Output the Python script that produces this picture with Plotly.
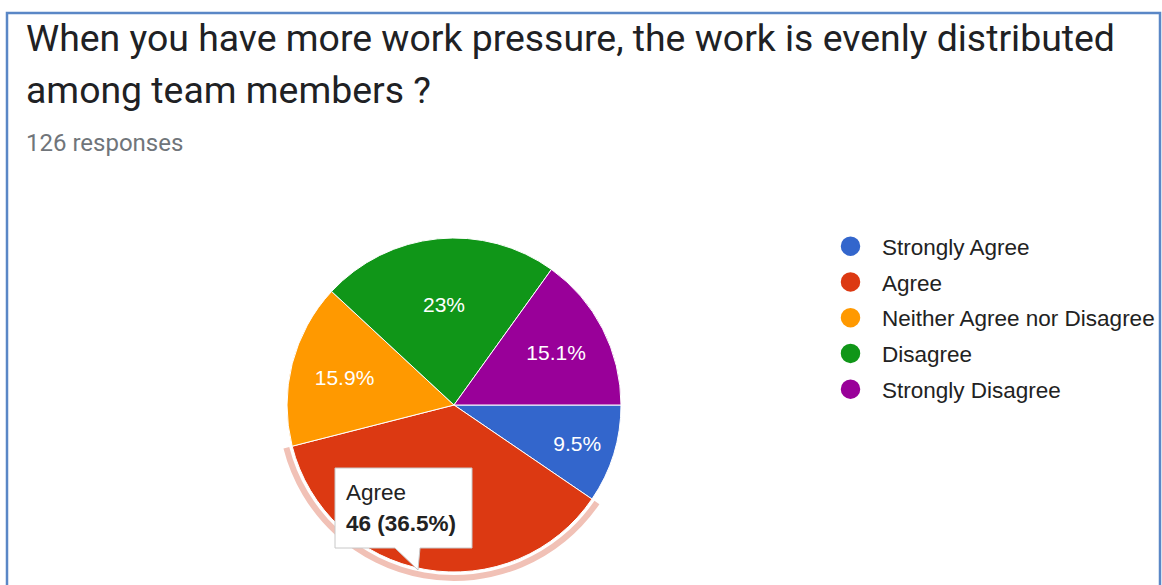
import plotly.graph_objects as go

W, H = 1162, 585

# Survey answers
categories = ["Strongly Agree", "Agree", "Neither Agree nor Disagree", "Disagree", "Strongly Disagree"]
counts = [12, 46, 20, 29, 19]
colors = ["#3366cc", "#dc3912", "#ff9900", "#109618", "#990099"]
highlighted = "Agree"

title_lines = ["When you have more work pressure, the work is evenly distributed",
               "among team members ?"]

total = sum(counts)


def pct(v):
    return f"{round(v / total * 100, 1):g}%"


def px(x):
    return x / W


def py(y):
    return 1 - y / H


hi = categories.index(highlighted)

# slice labels; the highlighted slice is described by the callout instead
slice_text = ["" if i == hi else pct(v) for i, v in enumerate(counts)]

cx, cy, r = 454, 405, 167
halo_in, halo_out = 170, 176

fig = go.Figure()

# pale ring around the highlighted slice
fig.add_trace(go.Pie(
    labels=categories, values=counts, sort=False, direction="clockwise", rotation=90,
    marker=dict(colors=["rgba(0,0,0,0)" if i != hi else "#f1c1b6" for i in range(len(counts))],
                line=dict(width=0)),
    hole=halo_in / halo_out, textinfo="none", hoverinfo="skip", showlegend=False,
    domain=dict(x=[px(cx - halo_out), px(cx + halo_out)], y=[py(cy + halo_out), py(cy - halo_out)]),
))

# main pie
fig.add_trace(go.Pie(
    labels=categories, values=counts, sort=False, direction="clockwise", rotation=90,
    marker=dict(colors=colors, line=dict(color="white", width=1)),
    text=slice_text, textinfo="text", textposition="inside", insidetextorientation="horizontal",
    insidetextfont=dict(family="Liberation Sans, Arial, sans-serif", size=21, color="white"),
    showlegend=False,
    domain=dict(x=[px(cx - r), px(cx + r)], y=[py(cy + r), py(cy - r)]),
))

# legend entries with round markers
for name, col in zip(categories, colors):
    fig.add_trace(go.Scatter(
        x=[None], y=[None], mode="markers", name=name, legendgroup=name,
        marker=dict(symbol="circle", size=20, color=col, line=dict(color=col, width=3.5)),
    ))

# callout for the highlighted slice
bx0, by0, bx1, by1 = 335, 468, 472, 548
tail = [(395, by1), (418, 570), (420, by1)]
path = (f"M {px(bx0)},{py(by0)} L {px(bx1)},{py(by0)} L {px(bx1)},{py(by1)} "
        f"L {px(tail[2][0])},{py(tail[2][1])} L {px(tail[1][0])},{py(tail[1][1])} "
        f"L {px(tail[0][0])},{py(tail[0][1])} L {px(bx0)},{py(by1)} Z")

shapes = [
    dict(type="path", path=path, xref="paper", yref="paper", layer="above",
         fillcolor="white", line=dict(color="#c8c8c8", width=1)),
    # card outline
    dict(type="rect", xref="paper", yref="paper", x0=px(7), x1=px(1160), y0=-0.05, y1=py(13),
         line=dict(color="#5a87c6", width=2.5), fillcolor="rgba(0,0,0,0)", layer="below"),
]

title_font = dict(family="Roboto", size=37.4, color="#202124")
tip_font = dict(family="Liberation Sans, Arial, sans-serif", size=22.5, color="#222222")

annotations = [
    dict(text=title_lines[0], x=px(24), y=py(38), xref="paper", yref="paper",
         xanchor="left", yanchor="middle", showarrow=False, font=title_font),
    dict(text=title_lines[1], x=px(24), y=py(90), xref="paper", yref="paper",
         xanchor="left", yanchor="middle", showarrow=False, font=title_font),
    dict(text=f"{total} responses", x=px(24), y=py(143), xref="paper", yref="paper",
         xanchor="left", yanchor="middle", showarrow=False,
         font=dict(family="Roboto", size=24, color="#70757a")),
    dict(text=highlighted, x=px(344), y=py(492), xref="paper", yref="paper",
         xanchor="left", yanchor="middle", showarrow=False, font=tip_font),
    dict(text=f"<b>{counts[hi]} ({pct(counts[hi])})</b>", x=px(344), y=py(523), xref="paper", yref="paper",
         xanchor="left", yanchor="middle", showarrow=False, font=tip_font),
]

fig.update_layout(
    width=W, height=H,
    margin=dict(l=0, r=0, t=0, b=0),
    paper_bgcolor="white", plot_bgcolor="white",
    xaxis=dict(visible=False), yaxis=dict(visible=False),
    showlegend=True,
    legend=dict(x=px(819), y=py(225), xanchor="left", yanchor="top",
                font=dict(family="Liberation Sans, Arial, sans-serif", size=22.5, color="#222222"),
                tracegroupgap=3.5, itemwidth=53, bgcolor="rgba(0,0,0,0)"),
    shapes=shapes, annotations=annotations,
)

fig.write_html("out.html")
